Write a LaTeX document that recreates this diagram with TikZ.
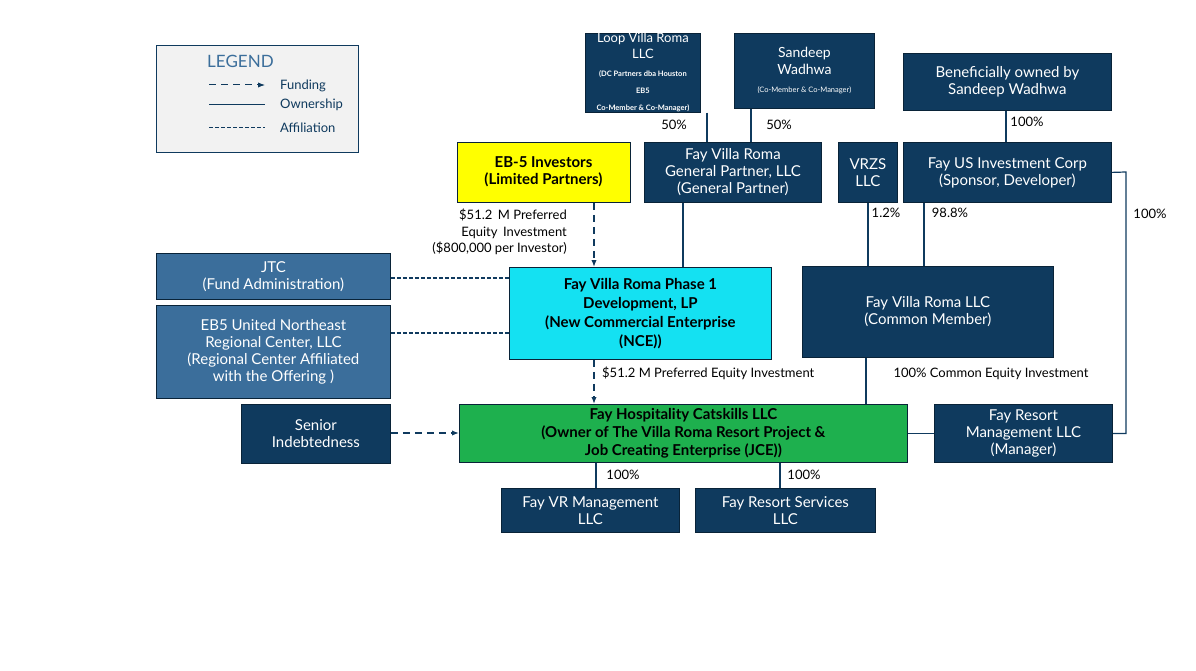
\documentclass[tikz,border=0pt]{standalone}
\usepackage{fontspec}
\setmainfont{Lato}
\usetikzlibrary{arrows.meta}
\definecolor{navy}{HTML}{0F3A5E}
\definecolor{mid}{HTML}{3B6E9B}
\definecolor{lgray}{HTML}{F2F2F2}
\definecolor{ylw}{HTML}{FFFF00}
\definecolor{cyn}{HTML}{14E1F2}
\definecolor{grn}{HTML}{1EB04E}
\tikzset{
 bx/.style={draw=navy!60!black,line width=0.8pt,fill=navy,text=white,align=center,font=\fontsize{15}{17}\selectfont,inner sep=0pt},
 lb/.style={fill=mid},
 own/.style={draw=navy,line width=1.2pt},
 fund/.style={draw=navy,line width=1.2pt,dash pattern=on 7pt off 5pt,-{Latex[length=7pt]}},
 aff/.style={draw=navy,line width=1.2pt,dash pattern=on 4pt off 2pt},
 lab/.style={font=\fontsize{13}{15}\selectfont,text=black,inner sep=0pt},
}
\newcommand{\bxat}[4]{\node[bx,minimum width=#3-#1,minimum height=#4-#2,anchor=north west] at (#1,#2)}
\begin{document}
\begin{tikzpicture}[x=1pt,y=-1pt]
\useasboundingbox (0,0) rectangle (1196,671);
% legend
\node[draw=navy,line width=1pt,fill=lgray,minimum width=202,minimum height=107,anchor=north west] (leg) at (156,45) {};
\node[anchor=west,text=mid,font=\fontsize{17}{19}\selectfont,inner sep=0] (lt) at (207,61) {LEGEND};
\coordinate (f1) at (209,85); \coordinate (f2) at (265,85);
\coordinate (o1) at (209,105); \coordinate (o2) at (265,105);
\coordinate (a1) at (209,128); \coordinate (a2) at (265,128);
\draw[fund,line width=1pt] (f1) -- (f2);
\draw[own,line width=1pt] (o1) -- (o2);
\draw[aff,line width=1pt] (a1) -- (a2);
\node[lab,anchor=west,text=navy] (lf) at (280,86) {Funding};
\node[lab,anchor=west,text=navy] (lo) at (280,105) {Ownership};
\node[lab,anchor=west,text=navy] (la) at (280,128) {Affiliation};
% boxes
\bxat{585}{33}{700}{108} (loop) {\fontsize{13}{16}\selectfont Loop Villa Roma\\[-1pt]\fontsize{13}{16}\selectfont LLC\\[1pt]\fontsize{7.5}{9}\selectfont\bfseries (DC Partners dba Houston\\\fontsize{7.5}{9}\selectfont\bfseries EB5\\\fontsize{7.5}{9}\selectfont\bfseries Co-Member \& Co-Manager)};
\bxat{734}{33}{874}{108} (sw) {\fontsize{14}{16}\selectfont Sandeep\\\fontsize{14}{16}\selectfont Wadhwa\\[1pt]\fontsize{7.5}{9}\selectfont (Co-Member \& Co-Manager)};
\bxat{903}{53}{1111}{110} (ben) {Beneficially owned by\\Sandeep Wadhwa};
\bxat{457}{142}{630}{202} (eb5) {\bfseries EB-5 Investors\\\bfseries (Limited Partners)};
\node[bx,fill=ylw,text=black,minimum width=173,minimum height=60,anchor=north west] at (457,142) {};
\node[align=center,font=\fontsize{15}{17}\selectfont\bfseries,inner sep=0] at (543.5,172) {EB-5 Investors\\(Limited Partners)};
\bxat{644}{142}{821}{202} (gp) {Fay Villa Roma\\General Partner, LLC\\(General Partner)};
\bxat{838}{142}{897}{202} (vr) {VRZS\\LLC};
\bxat{903}{142}{1111}{202} (us) {Fay US Investment Corp\\(Sponsor, Developer)};
\bxat{156}{253}{390}{299} (jtc) {JTC\\(Fund Administration)};
\node[bx,lb,minimum width=234,minimum height=46,anchor=north west] at (156,253) {JTC\\(Fund Administration)};
\bxat{156}{305}{390}{398} (ebu) {};
\node[bx,lb,minimum width=234,minimum height=93,anchor=north west] at (156,305) {EB5 United Northeast\\Regional Center, LLC\\(Regional Center Affiliated\\with the Offering )};
\bxat{509}{267}{771}{359} (nce) {};
\node[bx,fill=cyn,text=black,minimum width=262,minimum height=92,anchor=north west,font=\fontsize{15}{19}\selectfont\bfseries] at (509,267) {Fay Villa Roma Phase 1\\Development, LP\\(New Commercial Enterprise\\(NCE))};
\bxat{802}{266}{1053}{357} (fvr) {Fay Villa Roma LLC\\(Common Member)};
\bxat{241}{404}{390}{463} (sen) {Senior\\Indebtedness};
\bxat{459}{404}{907}{462} (hos) {};
\node[bx,fill=grn,text=black,minimum width=448,minimum height=58,anchor=north west,font=\fontsize{15}{18}\selectfont\bfseries] at (459,404) {Fay Hospitality Catskills LLC\\(Owner of The Villa Roma Resort Project \&\\Job Creating Enterprise (JCE))};
\bxat{934}{404}{1112}{462} (frm) {Fay Resort\\Management LLC\\(Manager)};
\bxat{501}{488}{679}{532} (fvm) {Fay VR Management\\LLC};
\bxat{695}{488}{875}{532} (frs) {Fay Resort Services\\LLC};
% ownership
\draw[own] (loop.south -| 707,0) -- (gp.north -| 707,0);
\draw[own] (sw.south -| 751,0) -- (gp.north -| 751,0);
\draw[own] (ben.south -| 1006,0) -- (us.north -| 1006,0);
\draw[own] (gp.south -| 683,0) -- (nce.north -| 683,0);
\draw[own] (vr.south -| 868,0) -- (fvr.north -| 868,0);
\draw[own] (us.south -| 924,0) -- (fvr.north -| 924,0);
\draw[own] (fvr.south -| 866,0) -- (hos.north -| 866,0);
\draw[own] (us.east) -- (1126,172) |- (frm.east);
\draw[own] (hos.east) -- (frm.west);
\draw[own] (hos.south -| 596,0) -- (fvm.north -| 596,0);
\draw[own] (hos.south -| 780,0) -- (frs.north -| 780,0);
% funding
\draw[fund] (eb5.south -| 594,0) -- (nce.north -| 594,0);
\draw[fund] (nce.south -| 594,0) -- (hos.north -| 594,0);
\draw[fund] (sen.east |- 0,433) -- (hos.west |- 0,433);
% affiliation
\draw[aff] (jtc.east |- 0,278) -- (nce.west |- 0,278);
\draw[aff] (ebu.east |- 0,333) -- (nce.west |- 0,333);
% labels
\node[lab] at (674,125) {50\%};
\node[lab] at (779,125) {50\%};
\node[lab] at (1027,122) {100\%};
\node[lab] at (886,213) {1.2\%};
\node[lab] at (950,213) {98.8\%};
\node[lab] at (1150,214) {100\%};
\node[lab,align=right,anchor=north east,font=\fontsize{13}{16.5}\selectfont] at (567,209) {\$51.2 \,M Preferred\\Equity \,Investment\\(\$800,000 per Investor)};
\node[lab,anchor=west] at (602,373) {\$51.2 M Preferred Equity Investment};
\node[lab] at (991,374) {100\% Common Equity Investment};
\node[lab] at (623,475) {100\%};
\node[lab] at (804,475) {100\%};
\end{tikzpicture}
\end{document}
